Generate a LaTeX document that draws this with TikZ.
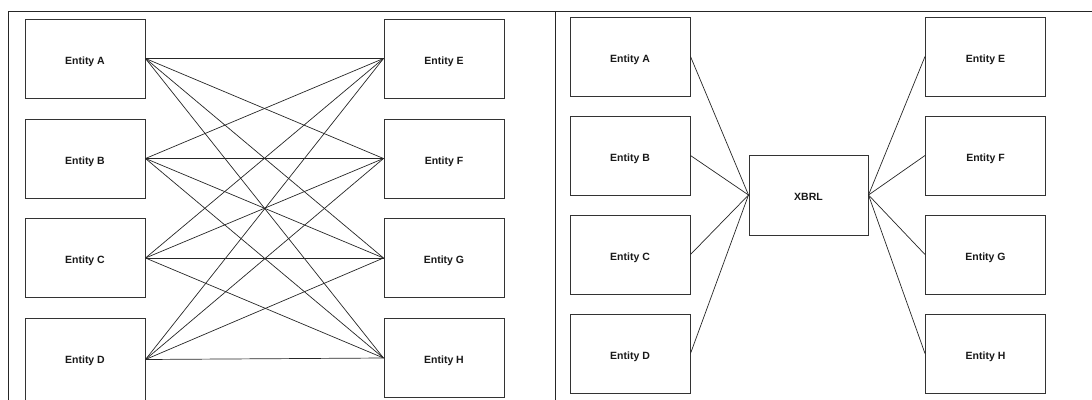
\documentclass[tikz,border=0pt]{standalone}
\usepackage{fontspec}
\setmainfont{Liberation Sans}
\begin{document}
\begin{tikzpicture}[x=1pt,y=-1pt,
  entbox/.style={draw=black!80, line width=1pt, fill=white, minimum width=120pt, minimum height=79pt,
    inner sep=0pt, text height=11pt, text depth=0pt,
    font=\fontsize{10.5}{12}\selectfont\bfseries, text=black!90},
  link/.style={draw=black!85, line width=0.7pt},
  frame/.style={draw=black!85, line width=1pt}]
\useasboundingbox (0,0) rectangle (1092,399);
% outer frame and divider
\coordinate (tl) at (8,11);
\coordinate (tr) at (1093,11);
\coordinate (bl) at (8,401);
\coordinate (mt) at (555,11);
\coordinate (mb) at (555,401);
\draw[frame] (bl) -- (tl) -- (tr);
\draw[frame] (mt) -- (mb);

% point-to-point view
\node[entbox] (pA) at (85,58.5) {Entity A};
\node[entbox] (pB) at (85,158.5) {Entity B};
\node[entbox] (pC) at (85,258) {Entity C};
\node[entbox, minimum height=82pt, text height=7.5pt] (pD) at (85,359.5) {Entity D};
\node[entbox] (pE) at (444,58.5) {Entity E};
\node[entbox] (pF) at (444,158.5) {Entity F};
\node[entbox] (pG) at (444,258) {Entity G};
\node[entbox] (pH) at (444,358) {Entity H};
\foreach \s in {pA,pB,pC,pD}
  \foreach \t in {pE,pF,pG,pH}
    \draw[link] (\s.east) -- (\t.west);

% hub view
\node[entbox] (hA) at (630,56.5) {Entity A};
\node[entbox] (hB) at (630,155.5) {Entity B};
\node[entbox] (hC) at (630,254.5) {Entity C};
\node[entbox] (hD) at (630,353.5) {Entity D};
\node[entbox, minimum width=119pt, minimum height=80pt] (x) at (808.5,195) {XBRL};
\node[entbox] (hE) at (985.5,56.5) {Entity E};
\node[entbox] (hF) at (985.5,155.5) {Entity F};
\node[entbox] (hG) at (985.5,254.5) {Entity G};
\node[entbox] (hH) at (985.5,353.5) {Entity H};
\foreach \s in {hA,hB,hC,hD}
  \draw[link] (\s.east) -- (x.west);
\foreach \t in {hE,hF,hG,hH}
  \draw[link] (x.east) -- (\t.west);
\end{tikzpicture}
\end{document}
